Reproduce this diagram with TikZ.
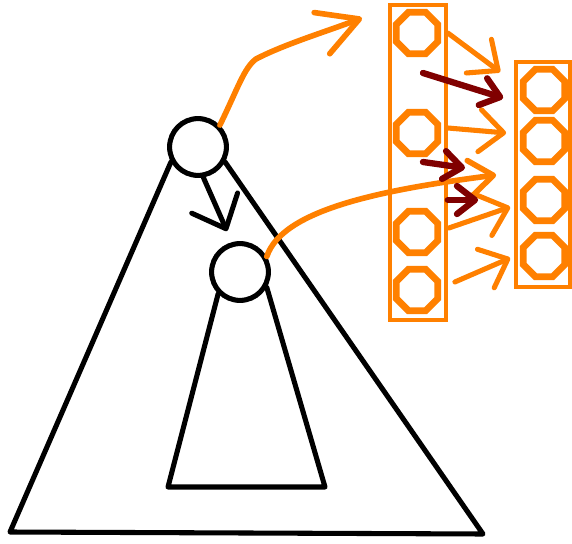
\documentclass[tikz,border=0pt]{standalone}
\usepackage{tikz}
\usetikzlibrary{shapes.geometric,arrows.meta,calc,positioning}
\definecolor{paintorange}{RGB}{255,128,0}
\definecolor{paintred}{RGB}{128,0,0}
\tikzset{
    treenode/.style ={circle, draw, line width=3.6pt, minimum size=1.42cm, inner sep=0pt},
    cell/.style ={regular polygon, regular polygon sides=8, draw=paintorange, line width=4.8pt, minimum size=1.12cm, inner sep=0pt},
    layer/.style ={rectangle, draw=paintorange, line width=2.6pt, inner sep=0pt},
    treeline/.style ={line width=3.6pt, line join=round, line cap=round},
    hop/.style ={treeline, -{Straight Barb[round, length=0.7cm, width=1.25cm]}},
    send/.style ={paintorange, line width=4pt, line cap=round, line join=round, -{Straight Barb[round, length=1cm, width=1.1cm]}},
    sendin/.style ={send, -{Straight Barb[round, length=0.6cm, width=0.9cm]}},
    wire/.style ={paintorange, line width=3.6pt, line cap=round, -{Straight Barb[round, length=0.6cm, width=1.05cm]}},
    pull/.style ={paintred, line width=4.5pt, line cap=round, -{Straight Barb[round, length=0.45cm, width=0.7cm]}}
}

\begin{document}
\begin{tikzpicture}[x=0.025cm, y=-0.025cm]
        \useasboundingbox (0,0) rectangle (572,544);
        % Tree and subtree
        \node[treenode] (root) at (198,147) {};
        \node[treenode] (child) at (240,272) {};
        \coordinate (outerleft) at (10,532);
        \coordinate (outerright) at (483,534);
        \coordinate (innerleft) at (168,487);
        \coordinate (innerright) at (325,487);
        \draw[treeline] (root.209) -- (outerleft) -- (outerright) -- (root.331);
        \draw[treeline] (child.225) -- (innerleft) -- (innerright) -- (child.330);
        \draw[hop] (root.-80) -- ($(child.north)+(-13,-10)$);
        % The two layers of cells
        \node[layer, minimum width=1.4cm, minimum height=7.875cm] (lbox) at (418,162.5) {};
        \node[layer, minimum width=1.35cm, minimum height=5.625cm] (rbox) at (543,174.5) {};
        \node[cell] (l1) at (417,33) {};
        \node[cell] (l2) at (417,133) {};
        \node[cell] (l3) at (417,232) {};
        \node[cell] (l4) at (417,290) {};
        \node[cell] (r1) at (544,90) {};
        \node[cell] (r2) at (544,141) {};
        \node[cell] (r3) at (544,200) {};
        \node[cell] (r4) at (544,256) {};
        % Orange arrows
        \coordinate (up) at (362,18);
        \draw[send] (root.45) .. controls (238,88) and (244,68) .. (256,59) .. controls (285,44) and (325,32) .. (up);
        \draw[sendin] (child.30) .. controls (282,210) and (380,190) .. ($(rbox.west |- r3)+(-18,-25)$);
        \draw[wire] (lbox.east |- l1) -- ($(rbox.west |- r1)+(-14,-18)$);
        \draw[wire] ($(lbox.east |- l2)+(0,-5)$) -- ($(rbox.west |- r2)+(-8,-8)$);
        \draw[wire] ($(lbox.east |- l3)+(1,-4)$) -- ($(rbox.west |- r3)+(-4,7)$);
        \draw[wire] ($(lbox.east |- l4)+(7,-8)$) -- ($(rbox.west |- r4)+(-4,2)$);
        % Dark red arrows
        \draw[pull] ($(l1)+(6,40)$) -- ($(rbox.west |- r1)+(-11,8)$);
        \draw[pull] ($(l2)+(6,29)$) -- ($(l2)+(48,35)$);
        \draw[pull] (lbox.east |- r3) -- ($(rbox.west |- r3)+(-36,0)$);
    \end{tikzpicture}
\end{document}
